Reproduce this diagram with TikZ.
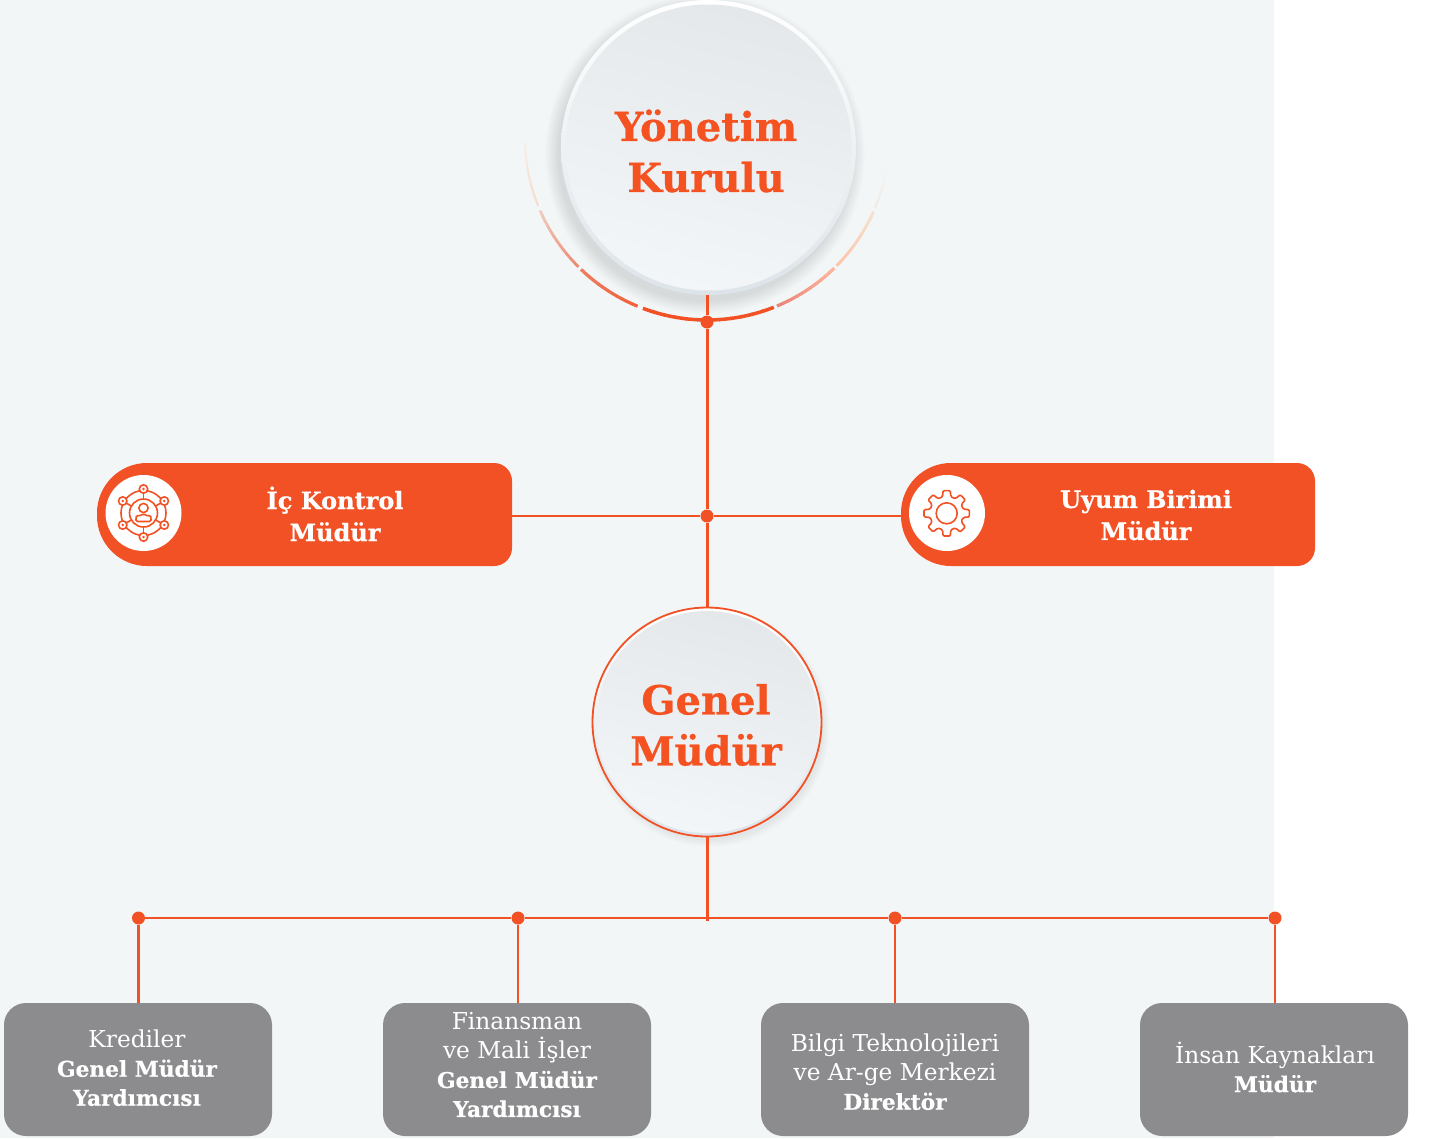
\documentclass[tikz,border=0pt]{standalone}
\usepackage{fontspec}
\setmainfont{DejaVu Serif}[BoldFeatures={FakeBold=0.6}]
\usetikzlibrary{calc}
\definecolor{org}{HTML}{F15124}
\definecolor{txo}{HTML}{F55222}
\definecolor{panel}{HTML}{F2F6F7}
\definecolor{greybox}{HTML}{8C8C8E}
\definecolor{aA}{HTML}{F7EEE6}
\definecolor{aB}{HTML}{F5DCCB}
\definecolor{aC}{HTML}{F0CBBD}
\definecolor{aD}{HTML}{EE8A72}
\definecolor{aE}{HTML}{EE7D60}
\definecolor{aF}{HTML}{F0623C}
\definecolor{aG}{HTML}{EC8577}
\definecolor{aH}{HTML}{FDB49C}
\definecolor{aI}{HTML}{FCC4A8}
\definecolor{aJ}{HTML}{F7E0D0}
\definecolor{aK}{HTML}{F5E9E0}
\definecolor{rimb}{HTML}{DDE4E9}
\definecolor{faceT}{HTML}{E4E8EA}
\definecolor{faceB}{HTML}{F3F6F8}
\newcommand{\gradarc}[5]{%
  \foreach \i in {0,...,11}{%
    \pgfmathsetmacro{\mixv}{100-\i*100/11}
    \pgfmathsetmacro{\aa}{#1+(#2-#1)*\i/12}
    \pgfmathsetmacro{\ab}{#1+(#2-#1)*(\i+1.1)/12}
    \draw[line width=#5pt,color={#3!\mixv!#4}] plot[domain=\aa:\ab,samples=4] ({707+182*cos(\x)},{138+182*sin(\x)});
  }}
\tikzset{
  x=1pt,y=-1pt,
  conn/.style={draw=org,line width=2.2pt},
  trunk/.style={draw=org,line width=3pt},
  dotn/.style={circle,fill=org,inner sep=0pt,minimum size=13pt},
  gbox/.style={rectangle,fill=greybox,rounded corners=22pt,minimum width=268pt,minimum height=133pt,inner sep=0pt},
  boxtext/.style={text=white,align=center,font=\fontsize{23.3}{29}\selectfont},
  pilltext/.style={text=white,align=center,font=\fontsize{24}{32}\selectfont\bfseries},
  bigtext/.style={text=txo,align=center,font=\fontsize{40}{51}\selectfont\bfseries},
  icon/.style={draw=org,line width=1.6pt},
  whitedisc/.style={circle,fill=white,inner sep=0pt,minimum size=76pt},
  face/.style={circle,inner sep=0pt,top color=faceT,bottom color=faceB,shading angle=-15},
}
\newcommand{\bb}[1]{{\fontsize{21.7}{29}\selectfont\bfseries #1}}
\begin{document}
\begin{tikzpicture}
\useasboundingbox (0,0) rectangle (1432,1138);
\fill[panel] (0,0) rectangle (1274,1138);
% soft shadows
\foreach \i in {1,...,14}{\fill[black,opacity=.006] (705,154) circle[radius=146+\i];}
\foreach \i in {1,...,8}{\fill[black,opacity=.008] (710,727) circle[radius=112+\i];}
% segmented arc
\gradarc{178.7}{158.3}{aA}{aB}{2}
\gradarc{156.5}{135.1}{aC}{aD}{2.8}
\gradarc{133.8}{112.6}{aE}{aF}{3.2}
\gradarc{110.6}{68.8}{org}{org}{3.5}
\gradarc{67.4}{45.8}{aG}{aH}{3.2}
\gradarc{44.6}{24}{aI}{aJ}{2.8}
\gradarc{22.6}{9}{aK}{panel}{2}
% circles
\node[circle,inner sep=0pt,minimum size=295pt,top color=white,bottom color=rimb] (yk) at (708.5,147.5) {};
\node[face,minimum size=286pt] (ykface) at (708.5,147.5) {};
\node[bigtext] (yktext) at (706,151) {Yönetim\\Kurulu};
\node[circle,inner sep=0pt,outer sep=0pt,minimum size=229pt,draw=org,line width=1.8pt,top color=white,bottom color=rimb] (gm) at (707,722) {};
\node[face,minimum size=222pt] (gmface) at (707,722) {};
\node[bigtext] (gmtext) at (706,725) {Genel\\Müdür};
% pills
\fill[org] (148,463) {[rounded corners=18pt] -- (512,463) -- (512,566)} -- (148,566) {[rounded corners=50pt] -- (97,566) -- (97,463)} -- cycle;
\fill[org] (952,463) {[rounded corners=18pt] -- (1315,463) -- (1315,566)} -- (952,566) {[rounded corners=50pt] -- (901,566) -- (901,463)} -- cycle;
\coordinate (icE) at (512,516);
\coordinate (uyW) at (901,516);
\node[whitedisc] (icdisc) at (143.5,513) {};
\node[whitedisc] (uydisc) at (947,513) {};
\node[pilltext] (ictext) at (335,514) {İç Kontrol\\Müdür};
\node[pilltext] (uytext) at (1146,515) {Uyum Birimi\\Müdür};
% left icon
\begin{scope}[shift={(143.5,513)},icon]
  \draw (0,0) circle[radius=14];
  \draw (0,-5) circle[radius=4.6];
  \draw[rounded corners=1.5pt] (-7.5,8.5) -- (7.5,8.5) -- (7.5,5) .. controls (7,2.5) and (3.5,2.5) .. (2.5,1.5) -- (-2.5,1.5) .. controls (-3.5,2.5) and (-7,2.5) .. (-7.5,5) -- cycle;
  \draw (0,0) circle[radius=22.5];
  \foreach \a in {90,270,30,150,210,330}{
    \draw (\a:14) -- (\a:20);
    \draw[fill=white] (\a:24) circle[radius=4.2];
    \fill[org] (\a:24) circle[radius=1.4];
  }
\end{scope}
% gear icon
\begin{scope}[shift={(946.7,513.3)},icon]
  \draw[rounded corners=1.2pt] (22.5:16.5)
    \foreach \a in {45,90,...,360}{
      -- ({\a-13.5}:17.5) -- ({\a-9}:23) -- ({\a+9}:23) -- ({\a+13.5}:17.5) -- ({\a+22.5}:16.5)
    };
  \draw (0,0) circle[radius=10.5];
\end{scope}
% boxes
\node[gbox] (b1) at (138,1069.5) {};
\node[gbox] (b2) at (517,1069.5) {};
\node[gbox] (b3) at (895,1069.5) {};
\node[gbox] (b4) at (1274,1069.5) {};
\node[boxtext] (t1) at (137,1068) {Krediler\\\bb{Genel Müdür}\\\bb{Yardımcısı}};
\node[boxtext] (t2) at (517,1065) {Finansman\\ve Mali İşler\\\bb{Genel Müdür}\\\bb{Yardımcısı}};
\node[boxtext] (t3) at (895,1072) {Bilgi Teknolojileri\\ve Ar-ge Merkezi\\\bb{Direktör}};
\node[boxtext] (t4) at (1275,1067) {İnsan Kaynakları\\\bb{Müdür}};
% dots
\node[dotn] (d1) at (707,322) {};
\node[dotn] (d2) at (707,516) {};
\node[dotn] (h1) at (138.5,918) {};
\node[dotn] (h2) at (518,918) {};
\node[dotn] (h3) at (895,918) {};
\node[dotn] (h4) at (1275,918) {};
\coordinate (stub) at (707,921);
% connectors
\draw[trunk] (d1 |- yk.south) -- (d1);
\draw[trunk] (d1) -- (d2);
\draw[trunk] (d2) -- (gm.north);
\draw[conn] (icE) -- (d2);
\draw[conn] (d2) -- (uyW);
\draw[trunk] (gm.south) -- (stub);
\draw[conn] (h1) -- (h2);
\draw[conn] (h2) -- (h3);
\draw[conn] (h3) -- (h4);
\draw[conn] (h1) -- (h1 |- b1.north);
\draw[conn] (h2) -- (h2 |- b2.north);
\draw[conn] (h3) -- (h3 |- b3.north);
\draw[conn] (h4) -- (h4 |- b4.north);
\end{tikzpicture}
\end{document}
